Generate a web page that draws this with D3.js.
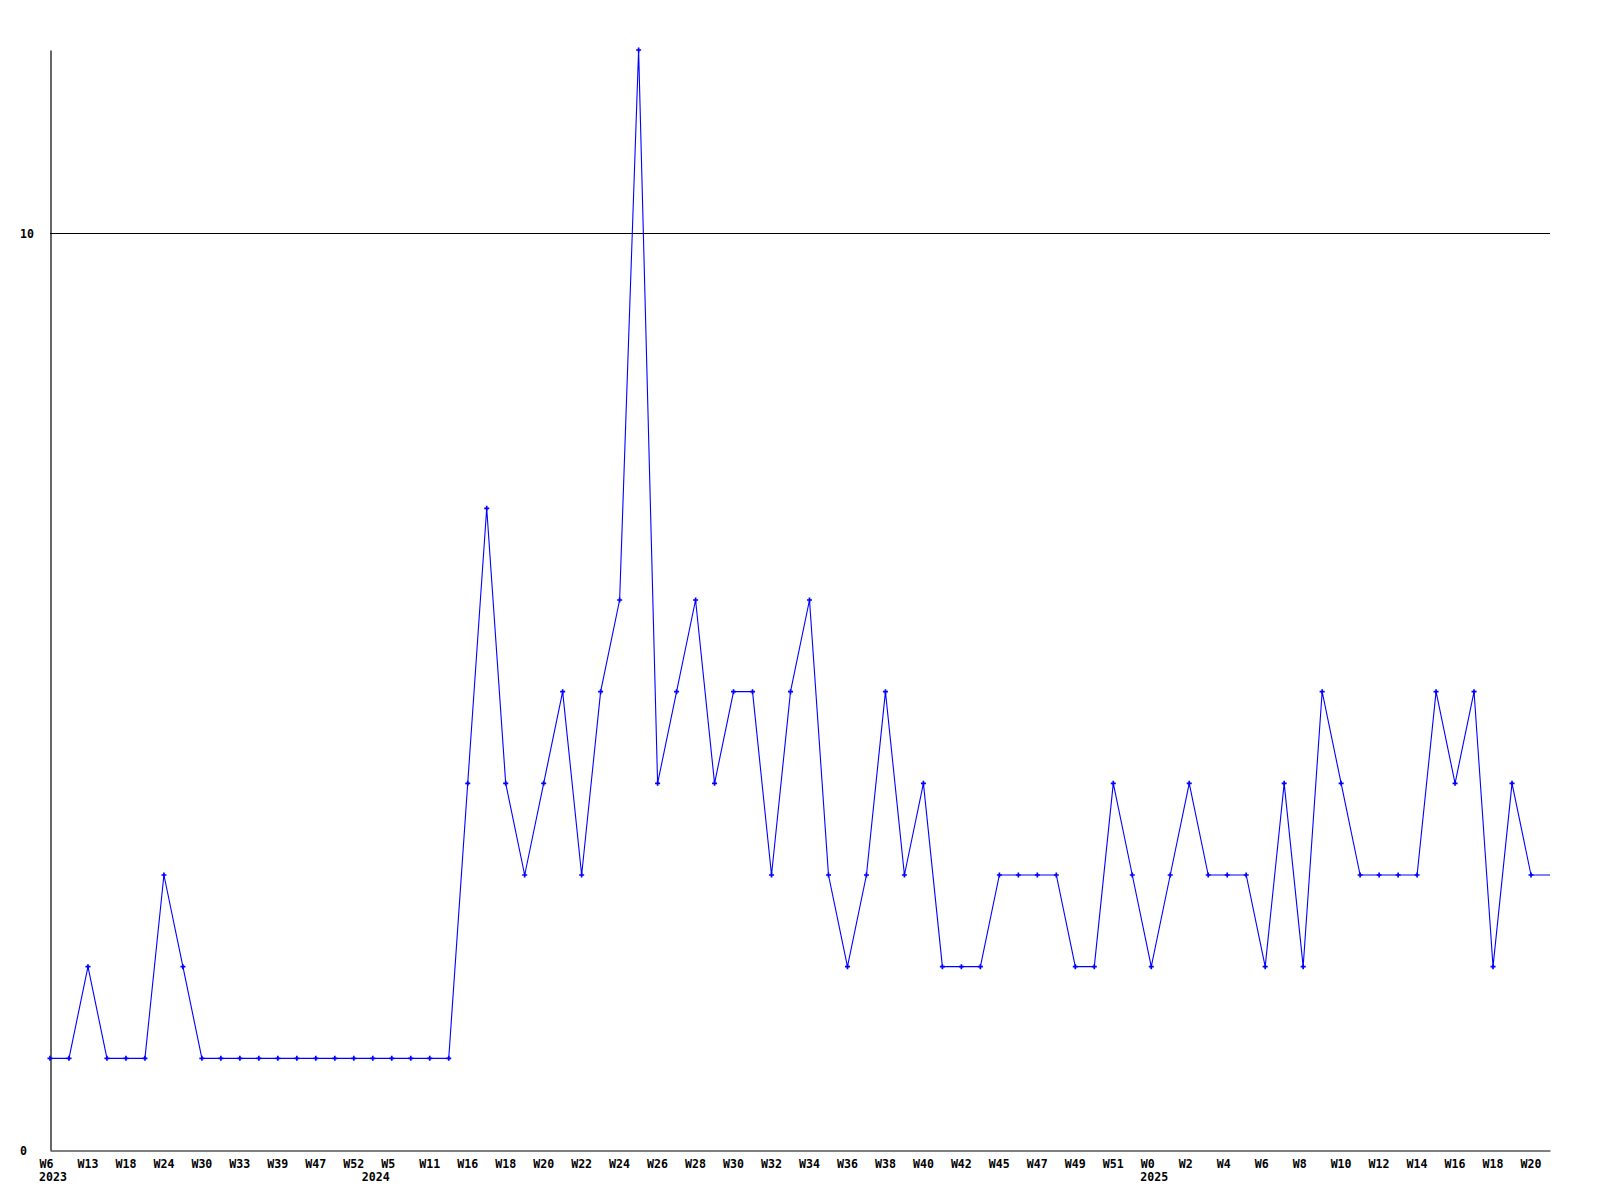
<!DOCTYPE html>
<html>
<head>
<meta charset="utf-8">
<script src="https://cdn.jsdelivr.net/npm/d3@7"></script>
<style>
  html, body { margin: 0; padding: 0; background: #fff; }
  svg text { font-family: "DejaVu Sans Mono", "Liberation Mono", monospace; font-weight: bold; font-size: 11.6px; fill: #000; }
</style>
</head>
<body>
<svg id="chart" width="1600" height="1200"></svg>
<script>
// weekly counts (80 points)
const values = [
  1, 1, 2, 1, 1, 1, 3, 2, 1, 1,
  1, 1, 1, 1, 1, 1, 1, 1, 1, 1,
  1, 1, 4, 7, 4, 3, 4, 5, 3, 5,
  6, 12, 4, 5, 6, 4, 5, 5, 3, 5,
  6, 3, 2, 3, 5, 3, 4, 2, 2, 2,
  3, 3, 3, 3, 2, 2, 4, 3, 2, 3,
  4, 3, 3, 3, 2, 4, 2, 5, 4, 3,
  3, 3, 3, 5, 4, 5, 2, 4, 3, 3
];
// labels for every second point
const weekLabels = [
  "W6", "W13", "W18", "W24", "W30", "W33", "W39", "W47", "W52", "W5",
  "W11", "W16", "W18", "W20", "W22", "W24", "W26", "W28", "W30", "W32",
  "W34", "W36", "W38", "W40", "W42", "W45", "W47", "W49", "W51", "W0",
  "W2", "W4", "W6", "W8", "W10", "W12", "W14", "W16", "W18", "W20"
];
const yearNames = ["2023", "2024", "2025"];
const yearIndex = [0, 17, 58];
const yTicks = [0, 10];
const yMax = 12;

const svg = d3.select("#chart");
const mLeft = 50, mRight = 1550, mTop = 50, mBottom = 1150;

const x = d3.scaleLinear().domain([0, values.length - 1]).range([mLeft, mRight]);
const y = d3.scaleLinear().domain([0, yMax]).range([mBottom, mTop]);

// gridline at 10
svg.append("g").selectAll("line").data(yTicks.filter(d => d > 0)).join("line")
  .attr("x1", mLeft).attr("x2", mRight)
  .attr("y1", d => Math.round(y(d)) + 0.5).attr("y2", d => Math.round(y(d)) + 0.5)
  .attr("stroke", "#000").attr("stroke-width", 1);

// x axis
const xAxis = d3.axisBottom(x)
  .tickValues(weekLabels.map((d, i) => i * 2))
  .tickFormat(d => weekLabels[d / 2])
  .tickSize(0).tickSizeOuter(0);
const gx = svg.append("g").attr("transform", `translate(0,${mBottom + 0.5})`).call(xAxis);
gx.select(".domain").attr("stroke", "#000").attr("stroke-width", 1.2);
gx.selectAll(".tick text").attr("text-anchor", "start").attr("dx", -11).attr("y", 9).attr("dy", "0.71em")
  .attr("fill", "#000").attr("font-size", null).attr("font-family", null);

// year labels
svg.append("g").selectAll("text").data(yearNames).join("text")
  .attr("x", (d, i) => x(yearIndex[i]) - 11)
  .attr("y", mBottom + 31)
  .text(d => d);

// y axis
const yAxis = d3.axisLeft(y).tickValues(yTicks).tickSize(0).tickSizeOuter(0);
const gy = svg.append("g").attr("transform", `translate(${mLeft + 0.5},0)`).call(yAxis);
gy.select(".domain").attr("stroke", "#000").attr("stroke-width", 1.2);
gy.selectAll(".tick text").attr("text-anchor", "start").attr("x", 19.5 - mLeft).attr("dy", "0.35em")
  .attr("fill", "#000").attr("font-size", null).attr("font-family", null);

// line
const line = d3.line().x((d, i) => x(i)).y(d => y(d));
svg.append("path").datum(values)
  .attr("d", line)
  .attr("fill", "none").attr("stroke", "#0000ff").attr("stroke-width", 1.1);

// markers (the last, partial point has none)
svg.append("g").selectAll("path").data(values.slice(0, values.length - 1)).join("path")
  .attr("transform", (d, i) => `translate(${x(i)},${y(d)})`)
  .attr("d", d3.symbol(d3.symbolCross).size(14))
  .attr("fill", "#0000ff");
</script>
</body>
</html>
